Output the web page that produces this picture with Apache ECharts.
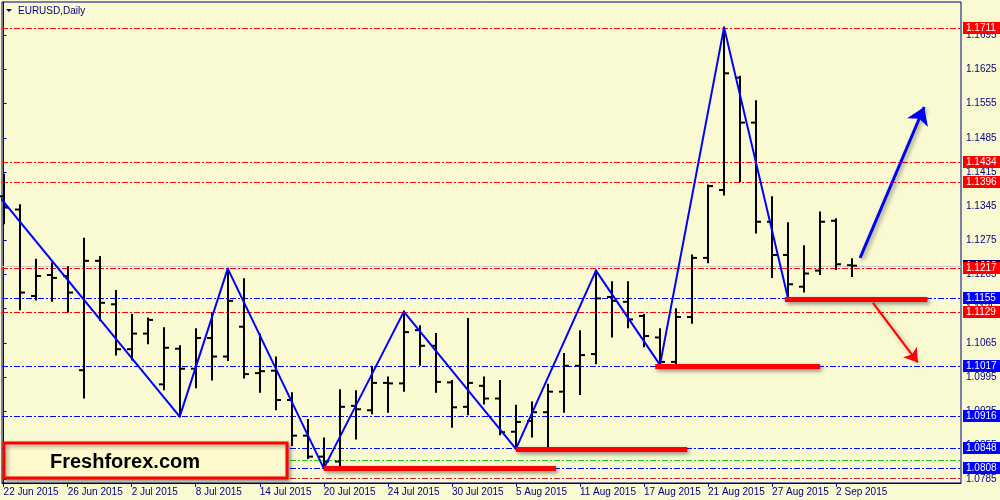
<!DOCTYPE html>
<html>
<head>
<meta charset="utf-8">
<script src="https://cdn.jsdelivr.net/npm/echarts@6/dist/echarts.min.js"></script>
<style>
  html, body { margin: 0; padding: 0; background: #FAFAD2; }
  #chart { width: 1000px; height: 500px; }
</style>
</head>
<body>
<div id="chart"></div>
<script>
// daily bars, EURUSD
var dates = ['22 Jun 2015','23 Jun 2015','24 Jun 2015','25 Jun 2015','26 Jun 2015',
  '29 Jun 2015','30 Jun 2015','1 Jul 2015','2 Jul 2015','3 Jul 2015',
  '6 Jul 2015','7 Jul 2015','8 Jul 2015','9 Jul 2015','10 Jul 2015',
  '13 Jul 2015','14 Jul 2015','15 Jul 2015','16 Jul 2015','17 Jul 2015',
  '20 Jul 2015','21 Jul 2015','22 Jul 2015','23 Jul 2015','24 Jul 2015',
  '27 Jul 2015','28 Jul 2015','29 Jul 2015','30 Jul 2015','31 Jul 2015',
  '3 Aug 2015','4 Aug 2015','5 Aug 2015','6 Aug 2015','7 Aug 2015',
  '10 Aug 2015','11 Aug 2015','12 Aug 2015','13 Aug 2015','14 Aug 2015',
  '17 Aug 2015','18 Aug 2015','19 Aug 2015','20 Aug 2015','21 Aug 2015',
  '24 Aug 2015','25 Aug 2015','26 Aug 2015','27 Aug 2015','28 Aug 2015',
  '31 Aug 2015','1 Sep 2015','2 Sep 2015','3 Sep 2015'];

var opens = [1.1365,1.1338,1.1161,1.1204,1.1202,1.1009,1.1233,1.1144,1.1052,1.1084,
  1.0980,1.1053,1.1012,1.1075,1.1037,1.1098,1.1003,1.1008,1.0948,1.0875,
  1.0832,1.0822,1.0936,1.0927,1.0983,1.0982,1.1091,1.1059,1.0984,1.0934,
  1.0977,1.0951,1.0883,1.0905,1.0923,1.0965,1.1018,1.1042,1.1159,1.1149,
  1.1120,1.1076,1.1026,1.1118,1.1239,1.1378,1.1608,1.1516,1.1313,1.1245,
  1.1180,1.1213,1.1315,1.1224];
var highs = [1.1409,1.1347,1.1235,1.1228,1.1220,1.1278,1.1241,1.1171,1.1122,1.1115,
  1.1095,1.1058,1.1093,1.1125,1.1217,1.1195,1.1082,1.1035,1.0962,1.0907,
  1.0869,1.0968,1.0966,1.1016,1.0994,1.1129,1.1099,1.1083,1.0987,1.1114,
  1.0994,1.0987,1.0936,1.0943,1.0979,1.1042,1.1089,1.1213,1.1189,1.1189,
  1.1122,1.1093,1.1134,1.1244,1.1387,1.1711,1.1610,1.1560,1.1363,1.1310,
  1.1263,1.1332,1.1318,1.1236];
var lows = [1.1310,1.1134,1.1154,1.1151,1.1129,1.0953,1.1112,1.1041,1.1031,1.1064,
  1.0970,1.0914,1.0974,1.0990,1.1030,1.0994,1.0965,1.0929,1.0856,1.0829,
  1.0808,1.0811,1.0869,1.0921,1.0924,1.0967,1.1020,1.0965,1.0893,1.0919,
  1.0941,1.0878,1.0848,1.0873,1.0854,1.0924,1.0960,1.1023,1.1078,1.1097,
  1.1058,1.1020,1.1021,1.1106,1.1230,1.1369,1.1396,1.1291,1.1200,1.1156,
  1.1170,1.1206,1.1216,1.1202];
var closes = [1.1342,1.1168,1.1202,1.1198,1.1168,1.1233,1.1147,1.1052,1.1084,1.1112,
  1.1055,1.1012,1.1075,1.1037,1.1151,1.1001,1.1007,1.0948,1.0875,1.0832,
  1.0822,1.0934,1.0929,1.0983,1.0982,1.1087,1.1059,1.0985,1.0933,1.0983,
  1.0951,1.0882,1.0903,1.0923,1.0965,1.1018,1.1040,1.1156,1.1151,1.1113,
  1.1079,1.1026,1.1118,1.1239,1.1386,1.1617,1.1516,1.1313,1.1245,1.1185,
  1.1207,1.1313,1.1226,1.1223];

// price scale labels on the right
var priceTicks = [1.1695,1.1625,1.1555,1.1485,1.1415,1.1345,1.1275,1.1205,1.1135,1.1065,1.0995,1.0925,1.0855,1.0785];
// date labels every 4 bars
var dateTickIdx = [0,4,8,12,16,20,24,28,32,36,40,44,48,52];

// horizontal levels
var bidPrice = 1.1223;
var redLevels = [1.1711,1.1434,1.1396,1.1217,1.1129];
var blueLevels = [1.1155,1.1017,1.0916,1.0848,1.0808];
var greenLevel = 1.0824;
var bottomLevel = 1.0790;

// zigzag swing points (bar index, price)
var zigIdx = [-1,11,14,20,25,32,37,41,45,49];
var zigVal = [1.1394,1.0914,1.1217,1.0808,1.1129,1.0848,1.1213,1.1020,1.1711,1.1156];

// thick red support segments: start idx, end idx, price
var supStart = [20,32,40.7,48.8];
var supEnd = [34.5,42.7,51.0,57.7];
var supPrice = [1.0808,1.0848,1.1017,1.1155];

// forecast arrows [startIdx, startPrice, endIdx, endPrice]
var upArrow = [53.5,1.1239,57.5,1.1548];
var downArrow = [54.3,1.1147,57.1,1.1025];

var NAVY = '#000080';
var FONT = '"Liberation Sans", Arial, sans-serif';
// level kinds: 0 bid, 1 red, 2 blue, 3 green, 4 dark red
var KIND_COLORS = ['#c8c8c8', '#ff0000', '#0000ff', '#22cc22', '#c82020'];
var KIND_BOX = ['#000060', '#ff0000', '#0000ff', null, null];

var chart = echarts.init(document.getElementById('chart'));

var barData = opens.map(function (o, i) { return [i, o, highs[i], lows[i], closes[i]]; });
var zigData = zigIdx.map(function (x, i) { return [x, zigVal[i]]; });

// bid line first so the 1.1217 box is drawn over its label
var levelData = [[0, bidPrice, 0]];
redLevels.forEach(function (v) { levelData.push([0, v, 1]); });
blueLevels.forEach(function (v) { levelData.push([0, v, 2]); });
levelData.push([0, greenLevel, 3]);
levelData.push([0, bottomLevel, 4]);

function renderBar(params, api) {
    var i = api.value(0);
    var o = api.coord([i, api.value(1)]);
    var h = api.coord([i, api.value(2)]);
    var l = api.coord([i, api.value(3)]);
    var c = api.coord([i, api.value(4)]);
    var x = Math.round(h[0]);
    var st = { stroke: '#000', lineWidth: 2 };
    return {
        type: 'group',
        children: [
            { type: 'line', shape: { x1: x, y1: h[1] - 1, x2: x, y2: l[1] + 1 }, style: st },
            { type: 'line', shape: { x1: x - 5, y1: o[1], x2: x, y2: o[1] }, style: st },
            { type: 'line', shape: { x1: x, y1: c[1], x2: x + 5, y2: c[1] }, style: st }
        ]
    };
}

function renderLevel(params, api) {
    var v = api.value(1);
    var kind = api.value(2);
    var cs = params.coordSys;
    // snap thin dashed lines to an even pixel row
    var y = 2 * Math.round(api.coord([0, v])[1] / 2) + 0.5;
    var right = cs.x + cs.width;
    var kids = [{
        type: 'line',
        shape: { x1: cs.x, y1: y, x2: right, y2: y },
        style: { stroke: KIND_COLORS[kind], lineWidth: 1, lineDash: kind === 0 ? null : [6, 2, 2, 2] }
    }];
    if (KIND_BOX[kind]) {
        kids.push({ type: 'rect', shape: { x: right + 2, y: y - 6.5, width: 37, height: 12 }, style: { fill: KIND_BOX[kind] } });
        kids.push({ type: 'text', x: right + 5, y: y, style: { text: v.toFixed(4), fill: '#fff', font: '10px ' + FONT, verticalAlign: 'middle' } });
    }
    return { type: 'group', children: kids };
}

var supports = supPrice.map(function (p, i) {
    return [{ coord: [supStart[i], p] }, { coord: [supEnd[i], p] }];
});

var option = {
    backgroundColor: '#FAFAD2',
    animation: false,
    grid: { left: 2, right: 39, top: 2, bottom: 17, show: true, borderColor: NAVY, borderWidth: 1 },
    xAxis: {
        type: 'value',
        min: -0.1,
        max: 59.8,
        axisLine: { show: true, lineStyle: { color: NAVY } },
        axisTick: { show: true, length: 4, lineStyle: { color: NAVY }, customValues: dateTickIdx },
        axisLabel: {
            customValues: dateTickIdx,
            formatter: function (v) { return dates[Math.round(v)] || ''; },
            align: 'left',
            alignMinLabel: 'left',
            margin: 4,
            color: NAVY,
            fontSize: 10,
            fontFamily: FONT
        },
        splitLine: { show: false }
    },
    yAxis: {
        type: 'value',
        position: 'right',
        min: 1.0778,
        max: 1.1763,
        axisLine: { show: true, lineStyle: { color: NAVY } },
        axisTick: { show: true, length: 3, lineStyle: { color: NAVY }, customValues: priceTicks },
        axisLabel: {
            customValues: priceTicks,
            formatter: function (v) { return v.toFixed(4); },
            margin: 5,
            color: NAVY,
            fontSize: 10,
            fontFamily: FONT
        },
        splitLine: { show: false }
    },
    series: [
        {
            type: 'custom',
            renderItem: renderLevel,
            data: levelData,
            encode: { x: 0, y: 1 },
            clip: false,
            silent: true,
            z: 2
        },
        {
            type: 'custom',
            renderItem: renderBar,
            data: barData,
            encode: { x: 0, y: [1, 2, 3, 4] },
            z: 3
        },
        {
            type: 'line',
            data: zigData,
            symbol: 'none',
            clip: true,
            lineStyle: { color: '#0000ff', width: 2 },
            z: 4
        },
        {
            type: 'line',
            data: [],
            z: 5,
            markLine: {
                silent: true,
                symbol: 'none',
                lineStyle: {
                    color: '#ff0000', width: 5, type: 'solid',
                    shadowColor: 'rgba(0,0,0,0.45)', shadowBlur: 4, shadowOffsetX: 2, shadowOffsetY: 2
                },
                label: { show: false },
                data: supports
            }
        },
        {
            type: 'line',
            data: [],
            z: 6,
            markLine: {
                silent: true,
                symbol: ['none', 'arrow'],
                label: { show: false },
                data: [
                    [{ coord: [upArrow[0], upArrow[1]], symbolSize: 17,
                       lineStyle: { color: '#0000ff', width: 3, type: 'solid', shadowColor: 'rgba(0,0,0,0.4)', shadowBlur: 4, shadowOffsetX: 2, shadowOffsetY: 2 } },
                     { coord: [upArrow[2], upArrow[3]], symbolSize: 17 }],
                    [{ coord: [downArrow[0], downArrow[1]], symbolSize: 13,
                       lineStyle: { color: '#ff0000', width: 2, type: 'solid', shadowColor: 'rgba(0,0,0,0.4)', shadowBlur: 4, shadowOffsetX: 2, shadowOffsetY: 2 } },
                     { coord: [downArrow[2], downArrow[3]], symbolSize: 13 }]
                ]
            }
        }
    ],
    graphic: [
        { type: 'polygon', shape: { points: [[6, 9], [12, 9], [9, 12]] }, style: { fill: NAVY }, z: 100 },
        { type: 'text', x: 18, y: 11, style: { text: 'EURUSD,Daily', fill: NAVY, font: '10px ' + FONT, verticalAlign: 'middle' }, z: 100 },
        {
            type: 'rect', shape: { x: 4, y: 443, width: 283, height: 35 }, z: 100,
            style: { fill: '#FFFACD', stroke: '#ff0000', lineWidth: 3, shadowColor: 'rgba(0,0,0,0.4)', shadowBlur: 4, shadowOffsetX: 2, shadowOffsetY: 2 }
        },
        { type: 'text', x: 125, y: 462, z: 101, style: { text: 'Freshforex.com', fill: '#000', font: 'bold 20px ' + FONT, align: 'center', verticalAlign: 'middle' } }
    ]
};

chart.setOption(option);
</script>
</body>
</html>
